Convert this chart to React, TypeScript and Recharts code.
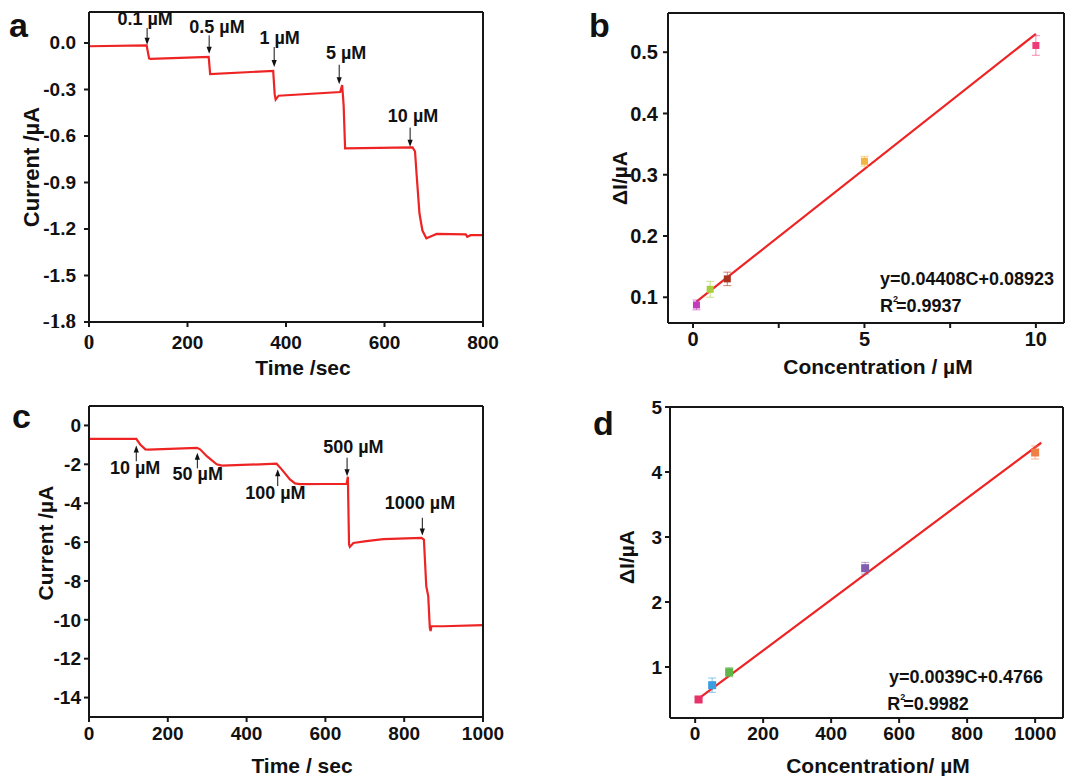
import React from 'react';
import {
  LineChart, ComposedChart, Line, Scatter, ErrorBar, XAxis, YAxis,
  ReferenceLine, ReferenceDot, Label,
} from 'recharts';

const FONT = 'Arial, "Liberation Sans", Helvetica, sans-serif';
const SERIF = '"Liberation Serif", "DejaVu Serif", serif';
const RED = '#ee2424';
const INK = '#161616';

// panel a: amperometric response, low concentrations
const timeA = [0, 117, 122, 125, 243, 246, 374, 377, 379, 385, 510, 514, 517, 520, 657, 662, 665, 671, 677, 685, 696, 706, 765, 768, 775, 800];
const currentA = [-0.021, -0.015, -0.100, -0.103, -0.090, -0.200, -0.180, -0.330, -0.365, -0.340, -0.316, -0.272, -0.400, -0.680, -0.674, -0.700, -0.840, -1.100, -1.210, -1.260, -1.245, -1.232, -1.235, -1.250, -1.240, -1.240];
const annotA = [
  { t: 118, tail: 0.097, tip: -0.011, label: '0.1 µM', lx: 114, ly: 0.114 },
  { t: 244, tail: 0.049, tip: -0.069, label: '0.5 µM', lx: 260, ly: 0.067 },
  { t: 376, tail: -0.026, tip: -0.155, label: '1 µM', lx: 387, ly: -0.004 },
  { t: 508, tail: -0.140, tip: -0.266, label: '5 µM', lx: 522, ly: -0.101 },
  { t: 652, tail: -0.546, tip: -0.670, label: '10 µM', lx: 658, ly: -0.509 },
];
const ticksAx = [0, 200, 400, 600, 800];
const ticksAy = [-1.8, -1.5, -1.2, -0.9, -0.6, -0.3, 0.0];

// panel b: calibration, low range
const concB = [0.1, 0.5, 1, 5, 10];
const deltaB = [0.0875, 0.113, 0.130, 0.322, 0.511];
const errB = [0.008, 0.013, 0.011, 0.008, 0.016];
const colorsB = ['#c23cbc', '#a8cc3c', '#a8321f', '#f2b442', '#ef3a78'];
const fitBx = [0.1, 10];
const fitBy = [0.093, 0.530];
const ticksBx = [0, 2.5, 5, 7.5, 10];
const ticksBy = [0.1, 0.2, 0.3, 0.4, 0.5];

// panel c: amperometric response, high concentrations
const timeC = [0, 120, 130, 143, 151, 274, 282, 299, 324, 337, 476, 489, 510, 523, 535, 654, 657, 660, 662, 671, 704, 747, 844, 850, 856, 861, 865, 867, 869, 899, 1000];
const currentC = [-0.69, -0.69, -0.98, -1.23, -1.24, -1.15, -1.23, -1.58, -2.00, -2.07, -1.97, -2.26, -2.78, -2.98, -3.02, -3.00, -2.64, -6.12, -6.25, -6.05, -5.95, -5.85, -5.78, -5.87, -8.27, -8.78, -10.41, -10.58, -10.33, -10.33, -10.27];
const annotC = [
  { t: 120, tail: -1.84, tip: -1.03, label: '10 µM', lx: 117, ly: -2.52 },
  { t: 275, tail: -2.21, tip: -1.41, label: '50 µM', lx: 276, ly: -2.81 },
  { t: 479, tail: -3.12, tip: -2.26, label: '100 µM', lx: 473, ly: -3.77 },
  { t: 655, tail: -1.66, tip: -2.61, label: '500 µM', lx: 671, ly: -1.41 },
  { t: 846, tail: -4.75, tip: -5.66, label: '1000 µM', lx: 840, ly: -4.29 },
];
const ticksCx = [0, 200, 400, 600, 800, 1000];
const ticksCy = [-14, -12, -10, -8, -6, -4, -2, 0];

// panel d: calibration, high range
const concD = [10, 50, 100, 500, 1000];
const deltaD = [0.50, 0.72, 0.92, 2.52, 4.30];
const errD = [0.03, 0.11, 0.07, 0.09, 0.10];
const colorsD = ['#e8336a', '#3a9fe0', '#5fb548', '#7f5db0', '#f07f45'];
const fitDx = [12, 1018];
const fitDy = [0.52, 4.45];
const ticksDx = [0, 200, 400, 600, 800, 1000];
const ticksDy = [1, 2, 3, 4, 5];

const rowsA = timeA.map((t, i) => ({ t, v: currentA[i] }));
const rowsC = timeC.map((t, i) => ({ t, v: currentC[i] }));
const ptsB = concB.map((x, i) => ({ x, y: deltaB[i], err: errB[i] }));
const ptsD = concD.map((x, i) => ({ x, y: deltaD[i], err: errD[i] }));
const lineB = fitBx.map((x, i) => ({ x, y: fitBy[i] }));
const lineD = fitDx.map((x, i) => ({ x, y: fitDy[i] }));

const txt = { fontFamily: FONT, fontWeight: 700, fill: '#111' };
const tickStyle = (size: number) => ({ ...txt, fontSize: size });
const axisLine = { stroke: INK, strokeWidth: 2 };

// panel a's corner labels ("0" and "-1.8") came out in a serif face in the original
const tickA = (axis: 'x' | 'y') => (p: any) => {
  const v = p.payload.value;
  const serif = v === 0 && axis === 'x' || v === -1.8;
  const label = axis === 'y' ? v.toFixed(1) : String(v);
  return (
    <text x={p.x} y={p.y} textAnchor={p.textAnchor} dy={axis === 'x' ? 15 : 6} fontSize={serif ? 21 : 19} {...txt} fontFamily={serif ? SERIF : FONT}>
      {label}
    </text>
  );
};

const xTitle = (text: string, cx: number, cy: number, size: number) => (
  <Label
    content={() => (
      <text x={cx} y={cy} textAnchor="middle" dominantBaseline="central" fontSize={size} {...txt}>{text}</text>
    )}
  />
);

const yTitle = (text: string, cx: number, cy: number, size: number) => (
  <Label
    content={() => (
      <text x={cx} y={cy} transform={`rotate(-90 ${cx} ${cy})`} textAnchor="middle" dominantBaseline="central" fontSize={size} {...txt}>{text}</text>
    )}
  />
);

const arrowShape = (props: any) => {
  const { x1, y1, x2, y2 } = props;
  const dir = y2 > y1 ? 1 : -1;
  return (
    <g>
      <line x1={x1} y1={y1} x2={x2} y2={y2 - dir * 5} stroke="#111" strokeWidth={1} />
      <polygon points={`${x2 - 2.6},${y2 - dir * 7} ${x2 + 2.6},${y2 - dir * 7} ${x2},${y2}`} fill="#111" />
    </g>
  );
};

const textDot = (label: string, size: number) => (p: any) => (
  <text x={p.cx} y={p.cy} textAnchor="middle" fontSize={size} {...txt}>{label}</text>
);

const eqDot = (label: string, size: number) => (p: any) => (
  <text x={p.cx} y={p.cy} fontSize={size} {...txt}>{label}</text>
);

const r2Dot = (value: string, size: number) => (p: any) => (
  <text x={p.cx} y={p.cy} fontSize={size} {...txt}>
    <tspan>R</tspan>
    <tspan dy={-10} fontSize={9}>2</tspan>
    <tspan dy={10} dx={-2}>{'=' + value}</tspan>
  </text>
);

const square = (color: string, s: number) => (p: any) => (
  <rect x={p.cx - s / 2} y={p.cy - s / 2} width={s} height={s} fill={color} />
);

// top and right axes close the box around each plot
const frame = () => [
  <XAxis key="ft" xAxisId="top" orientation="top" type="number" domain={[0, 1]} height={1} tick={false} tickLine={false} axisLine={axisLine} />,
  <YAxis key="fr" yAxisId="right" orientation="right" type="number" domain={[0, 1]} width={1} tick={false} tickLine={false} axisLine={axisLine} />,
];

const letter = (ch: string, left: number, top: number) => (
  <div style={{ position: 'absolute', left, top, fontFamily: FONT, fontWeight: 700, fontSize: 34, lineHeight: 1, color: '#111' }}>{ch}</div>
);

export default function App() {
  return (
    <div style={{ position: 'absolute', left: 0, top: 0, width: 1092, height: 776, background: '#fff' }}>
      {/* a */}
      <div style={{ position: 'absolute', left: 0, top: 0 }}>
        <LineChart width={520} height={390} data={rowsA} margin={{ top: 11, right: 36, bottom: 0, left: 0 }}>
          <XAxis dataKey="t" type="number" domain={[0, 800]} ticks={ticksAx} height={68} tick={tickA('x')} tickSize={5} tickMargin={7} tickLine={axisLine} axisLine={axisLine} allowDataOverflow>
            {xTitle('Time /sec', 303, 367, 21)}
          </XAxis>
          <YAxis type="number" domain={[-1.8, 0.2]} ticks={ticksAy} width={89} tick={tickA('y')} tickSize={5} tickMargin={8} tickLine={axisLine} axisLine={axisLine} allowDataOverflow>
            {yTitle('Current /µA', 31, 167, 22)}
          </YAxis>
          {frame()}
          <Line dataKey="v" type="linear" stroke={RED} strokeWidth={2.2} dot={false} isAnimationActive={false} />
          {annotA.map((a) => (
            <ReferenceLine key={'al' + a.label} segment={[{ x: a.t, y: a.tail }, { x: a.t, y: a.tip }]} shape={arrowShape} />
          ))}
          {annotA.map((a) => (
            <ReferenceDot key={'at' + a.label} x={a.lx} y={a.ly} r={0} shape={textDot(a.label, 18)} />
          ))}
        </LineChart>
      </div>

      {/* b */}
      <div style={{ position: 'absolute', left: 546, top: 0 }}>
        <ComposedChart width={546} height={390} margin={{ top: 12, right: 27, bottom: 0, left: 0 }}>
          <XAxis dataKey="x" type="number" domain={[-0.73, 10.82]} ticks={ticksBx} height={67} tick={tickStyle(20)} tickSize={5} tickMargin={4} tickLine={axisLine} axisLine={axisLine} tickFormatter={(v: number) => (v % 5 === 0 ? String(v) : '')} allowDataOverflow>
            {xTitle('Concentration / µM', 332, 366, 21)}
          </XAxis>
          <YAxis type="number" domain={[0.058, 0.564]} ticks={ticksBy} width={122} tick={tickStyle(20)} tickSize={5} tickMargin={5} tickLine={axisLine} axisLine={axisLine} tickFormatter={(v: number) => v.toFixed(1)} allowDataOverflow>
            {yTitle('ΔI/µA', 73, 178, 21)}
          </YAxis>
          {frame()}
          <Line data={lineB} dataKey="y" type="linear" stroke={RED} strokeWidth={2.2} dot={false} isAnimationActive={false} />
          {ptsB.map((p, i) => (
            <Scatter key={'b' + i} data={[p]} dataKey="y" shape={square(colorsB[i], 7)} isAnimationActive={false}>
              <ErrorBar dataKey="err" direction="y" width={4} stroke={colorsB[i]} strokeOpacity={0.6} strokeWidth={1} isAnimationActive={false} />
            </Scatter>
          ))}
          <ReferenceDot x={5.45} y={0.120} r={0} shape={eqDot('y=0.04408C+0.08923', 18)} />
          <ReferenceDot x={5.45} y={0.076} r={0} shape={r2Dot('0.9937', 18)} />
        </ComposedChart>
      </div>

      {/* c */}
      <div style={{ position: 'absolute', left: 0, top: 390 }}>
        <LineChart width={520} height={386} data={rowsC} margin={{ top: 15, right: 36, bottom: 0, left: 0 }}>
          <XAxis dataKey="t" type="number" domain={[0, 1000]} ticks={ticksCx} height={59} tick={tickStyle(19)} tickSize={5} tickMargin={5} tickLine={axisLine} axisLine={axisLine} allowDataOverflow>
            {xTitle('Time / sec', 302, 375, 21)}
          </XAxis>
          <YAxis type="number" domain={[-15, 1]} ticks={ticksCy} width={89} tick={tickStyle(19)} tickSize={5} tickMargin={3} tickLine={axisLine} axisLine={axisLine} allowDataOverflow>
            {yTitle('Current /µA', 45, 153, 21)}
          </YAxis>
          {frame()}
          <Line dataKey="v" type="linear" stroke={RED} strokeWidth={2.2} dot={false} isAnimationActive={false} />
          {annotC.map((a) => (
            <ReferenceLine key={'cl' + a.label} segment={[{ x: a.t, y: a.tail }, { x: a.t, y: a.tip }]} shape={arrowShape} />
          ))}
          {annotC.map((a) => (
            <ReferenceDot key={'ct' + a.label} x={a.lx} y={a.ly} r={0} shape={textDot(a.label, 18)} />
          ))}
        </LineChart>
      </div>

      {/* d */}
      <div style={{ position: 'absolute', left: 546, top: 390 }}>
        <ComposedChart width={546} height={386} margin={{ top: 16, right: 28, bottom: 0, left: 0 }}>
          <XAxis dataKey="x" type="number" domain={[-74, 1082]} ticks={ticksDx} height={58} tick={tickStyle(19)} tickSize={5} tickMargin={4} tickLine={axisLine} axisLine={axisLine} allowDataOverflow>
            {xTitle('Concentration/ µM', 332, 375, 21)}
          </XAxis>
          <YAxis type="number" domain={[0.215, 5]} ticks={ticksDy} width={124} tick={tickStyle(19)} tickSize={5} tickMargin={3} tickLine={axisLine} axisLine={axisLine} allowDataOverflow>
            {yTitle('ΔI/µA', 80, 167, 21)}
          </YAxis>
          {frame()}
          <Line data={lineD} dataKey="y" type="linear" stroke={RED} strokeWidth={2.2} dot={false} isAnimationActive={false} />
          {ptsD.map((p, i) => (
            <Scatter key={'d' + i} data={[p]} dataKey="y" shape={square(colorsD[i], 8)} isAnimationActive={false}>
              <ErrorBar dataKey="err" direction="y" width={4} stroke={colorsD[i]} strokeOpacity={0.6} strokeWidth={1} isAnimationActive={false} />
            </Scatter>
          ))}
          <ReferenceDot x={570} y={0.754} r={0} shape={eqDot('y=0.0039C+0.4766', 18)} />
          <ReferenceDot x={565} y={0.338} r={0} shape={r2Dot('0.9982', 18)} />
        </ComposedChart>
      </div>

      {letter('a', 9, 8)}
      {letter('b', 589, 8)}
      {letter('c', 12, 399)}
      {letter('d', 593, 406)}
    </div>
  );
}
